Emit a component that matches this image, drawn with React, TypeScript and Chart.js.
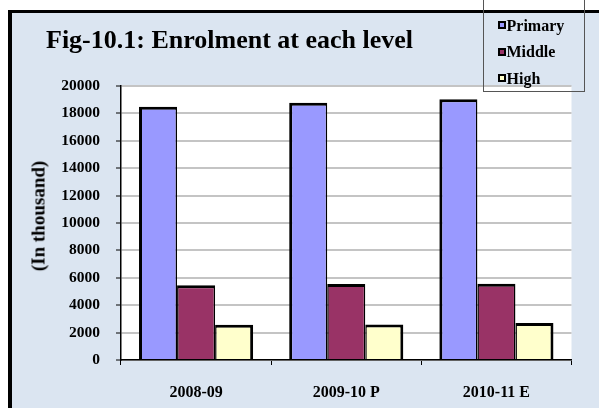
import React, { useEffect, useRef } from "react";
import { Chart, registerables } from "chart.js";

Chart.register(...registerables);

const categories = ["2008-09", "2009-10 P", "2010-11 E"];
const primaryValues = [18490, 18780, 19030];
const middleValues = [5450, 5540, 5570];
const highValues = [2580, 2600, 2700];
const seriesNames = ["Primary", "Middle", "High"];
const seriesColors = ["#9999FF", "#993366", "#FFFFCC"];
const yTickMin = 0;
const yTickMax = 20000;
const yTickStep = 2000;

const titleText = "Fig-10.1: Enrolment at each level";
const yTitleText = "(In thousand)";

const SERIF = "'Liberation Serif', 'Times New Roman', serif";
const BG = "#DBE5F1";

const plotBg = {
  id: "plotBg",
  beforeDraw(chart: any) {
    const { ctx, chartArea } = chart;
    ctx.save();
    ctx.fillStyle = "#FFFFFF";
    ctx.fillRect(chartArea.left, chartArea.top, chartArea.right - chartArea.left, chartArea.bottom - chartArea.top);
    ctx.restore();
  },
};

export default function App() {
  const ref = useRef<HTMLCanvasElement | null>(null);

  useEffect(() => {
    if (!ref.current) return;
    const values = [primaryValues, middleValues, highValues];
    const borders = [
      { left: 3, right: 1.5, top: 3, bottom: 0 },
      { left: 1.5, right: 1.5, top: 3, bottom: 0 },
      { left: 1.5, right: 3, top: 3, bottom: 0 },
    ];
    const chart = new Chart(ref.current, {
      type: "bar",
      data: {
        labels: categories,
        datasets: seriesNames.map((name, i) => ({
          label: name,
          data: values[i],
          backgroundColor: seriesColors[i],
          borderColor: "#000000",
          borderWidth: borders[i] as any,
          borderSkipped: false as any,
          categoryPercentage: 0.76,
          barPercentage: 1,
        })),
      },
      options: {
        animation: false,
        responsive: false,
        devicePixelRatio: 1,
        layout: { padding: { left: 0, right: 27.5, top: 86, bottom: 0 } },
        plugins: {
          legend: { display: false },
          title: { display: false },
          tooltip: { enabled: false },
        },
        scales: {
          x: {
            grid: {
              display: true,
              drawOnChartArea: false,
              drawTicks: true,
              tickLength: 5,
              tickColor: "#000000",
              tickWidth: 1,
              offset: true,
            },
            border: { display: true, color: "#000000", width: 1.5 },
            ticks: {
              color: "#000000",
              padding: 18,
              font: { family: SERIF, size: 16, weight: "bold" },
            },
            afterFit(scale: any) {
              scale.height = 48;
            },
          },
          y: {
            min: yTickMin,
            max: yTickMax,
            grid: {
              color: "#C4C4C4",
              lineWidth: 2,
              drawTicks: true,
              tickLength: 5,
              tickColor: "#000000",
              tickWidth: 1,
            },
            border: { display: true, color: "#000000", width: 1.5 },
            ticks: {
              stepSize: yTickStep,
              color: "#000000",
              padding: 16,
              font: { family: SERIF, size: 15.5, weight: "bold" },
              callback: (v: any) => String(v),
            },
            afterFit(scale: any) {
              scale.width = 121;
            },
          },
        },
      },
      plugins: [plotBg],
    });
    return () => chart.destroy();
  }, []);

  const legendBaselines = [31.3, 57.6, 84];

  return (
    <div
      style={{
        position: "fixed",
        left: 0,
        top: 0,
        width: 599,
        height: 408,
        overflow: "hidden",
        background: "#FFFFFF",
        fontFamily: SERIF,
      }}
    >
      <div
        style={{
          position: "absolute",
          left: 7.5,
          top: 10,
          width: 600,
          height: 410,
          borderLeft: "4px solid #000",
          borderTop: "3px solid #000",
          background: BG,
        }}
      />
      <canvas
        ref={ref}
        width={599}
        height={408}
        style={{ position: "absolute", left: 0, top: 0, width: 599, height: 408 }}
      />
      <div
        style={{
          position: "absolute",
          left: 46,
          top: 26.5,
          fontSize: 26,
          lineHeight: "26px",
          fontWeight: "bold",
          color: "#000",
          whiteSpace: "nowrap",
        }}
      >
        {titleText}
      </div>
      <div
        style={{
          position: "absolute",
          left: 37.5,
          top: 216.3,
          transform: "translate(-50%, -50%) rotate(-90deg)",
          fontSize: 19,
          lineHeight: "19px",
          fontWeight: "bold",
          color: "#000",
          whiteSpace: "nowrap",
        }}
      >
        {yTitleText}
      </div>
      <div
        style={{
          position: "absolute",
          left: 483,
          top: -2,
          width: 100,
          height: 92,
          border: "1px solid #555",
        }}
      />
      {seriesNames.map((name, i) => (
        <React.Fragment key={name}>
          <div
            style={{
              position: "absolute",
              left: 497.5,
              top: legendBaselines[i] - 10,
              width: 4,
              height: 4,
              border: "2px solid #000",
              background: seriesColors[i],
            }}
          />
          <div
            style={{
              position: "absolute",
              left: 506.5,
              top: legendBaselines[i] - 13.4,
              fontSize: 16,
              lineHeight: "16px",
              fontWeight: "bold",
              color: "#000",
              whiteSpace: "nowrap",
            }}
          >
            {name}
          </div>
        </React.Fragment>
      ))}
    </div>
  );
}
